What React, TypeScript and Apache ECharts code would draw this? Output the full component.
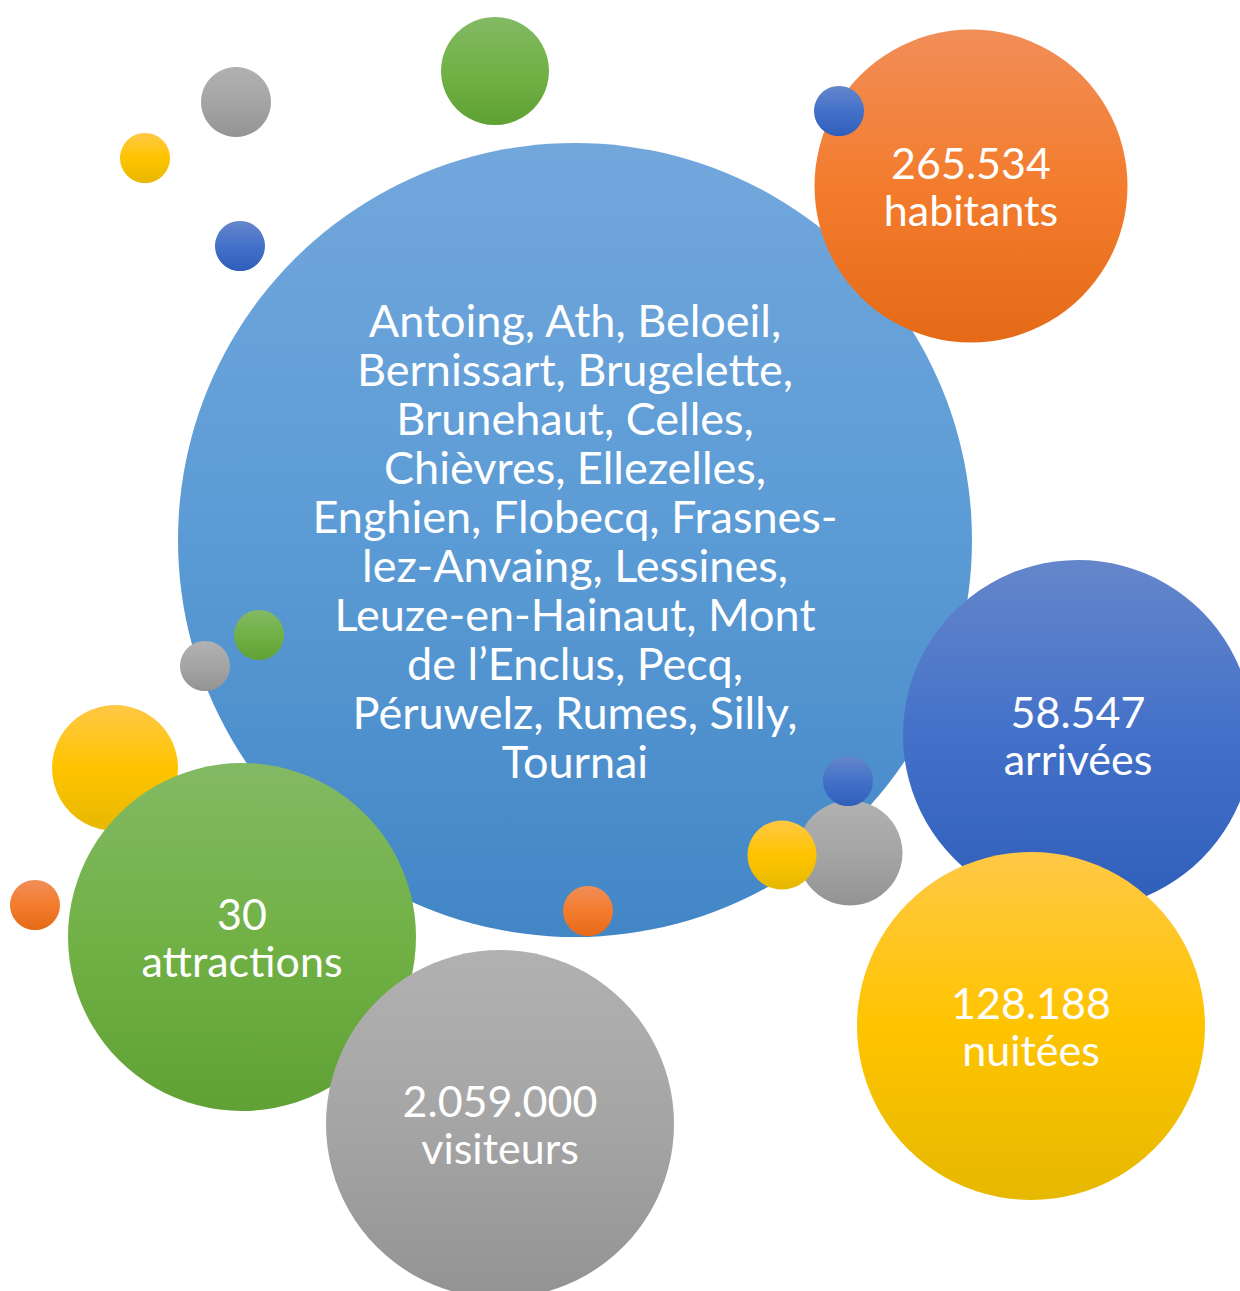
import React, { useEffect, useRef } from "react";
import * as echarts from "echarts";

// Bubble layout (centre x, centre y, diameter), bottom-to-top drawing order
const bubbleLabels: string[] = [
  "Antoing, Ath, Beloeil,\nBernissart, Brugelette,\nBrunehaut, Celles,\nChièvres, Ellezelles,\nEnghien, Flobecq, Frasnes-\nlez-Anvaing, Lessines,\nLeuze-en-Hainaut, Mont\nde l’Enclus, Pecq,\nPéruwelz, Rumes, Silly,\nTournai",
  "265.534\nhabitants",
  "",
  "",
  "",
  "",
  "",
  "30\nattractions",
  "2.059.000\nvisiteurs",
  "",
  "58.547\narrivées",
  "",
  "",
  "",
  "128.188\nnuitées",
  "",
  "",
  "",
  "",
];
const bubbleX: number[] = [575, 971, 839, 259, 205, 588, 115, 242, 500, 35, 1078, 850, 848, 782, 1031, 495, 236, 145, 240];
const bubbleY: number[] = [540, 186, 111, 635, 666, 911, 768, 937, 1124, 905, 735, 853, 781, 855, 1026, 71, 102, 158, 246];
const bubbleDiameter: number[] = [794, 313, 50, 50, 50, 50, 126, 348, 348, 50, 350, 105, 50, 69, 348, 108, 70, 50, 50];
const bubbleTheme: string[] = [
  "sky", "orange", "blue", "green", "gray", "orange", "yellow", "green", "gray", "orange",
  "blue", "gray", "blue", "yellow", "yellow", "green", "gray", "yellow", "blue",
];

const palette: Record<string, [string, string, string]> = {
  sky: ["#72A7DC", "#5B9BD5", "#4286C6"],
  orange: ["#F18E58", "#F37C2D", "#E56A17"],
  blue: ["#6586CB", "#4371C9", "#2F5EBA"],
  yellow: ["#FFC846", "#FFC400", "#E6B800"],
  green: ["#83B964", "#71B146", "#60A135"],
  gray: ["#B1B1B1", "#A5A5A5", "#939393"],
};

export default function App() {
  const ref = useRef<HTMLDivElement>(null);

  useEffect(() => {
    if (!ref.current) return;
    const chart = echarts.init(ref.current, undefined, { renderer: "svg" });
    const data = bubbleX.map((x, i) => {
      const c = palette[bubbleTheme[i]];
      const isBig = i === 0;
      return {
        name: bubbleLabels[i],
        value: [x, bubbleY[i]],
        symbolSize: bubbleDiameter[i],
        itemStyle: {
          opacity: 1,
          color: new echarts.graphic.LinearGradient(0, 0, 0, 1, [
            { offset: 0, color: c[0] },
            { offset: 0.5, color: c[1] },
            { offset: 1, color: c[2] },
          ]),
        },
        label: {
          show: bubbleLabels[i] !== "",
          fontSize: isBig ? 45 : 43,
          lineHeight: isBig ? 49 : 47,
        },
      };
    });
    chart.setOption({
      animation: false,
      grid: { left: 0, right: 0, top: 0, bottom: 0 },
      xAxis: { type: "value", min: 0, max: 1240, show: false },
      yAxis: { type: "value", min: 0, max: 1291, inverse: true, show: false },
      series: [
        {
          type: "scatter",
          symbol: "circle",
          clip: false,
          itemStyle: { opacity: 1 },
          data,
          label: {
            show: true,
            position: "inside",
            formatter: "{b}",
            color: "#FFFFFF",
            opacity: 1,
            fontFamily: "Lato",
            fontSize: 45,
            lineHeight: 48,
            align: "center",
            verticalAlign: "middle",
          },
          emphasis: { disabled: true },
        },
      ],
    });
    return () => chart.dispose();
  }, []);

  return (
    <div
      ref={ref}
      style={{ position: "absolute", left: 0, top: 0, width: 1240, height: 1291, background: "#FFFFFF" }}
    />
  );
}
